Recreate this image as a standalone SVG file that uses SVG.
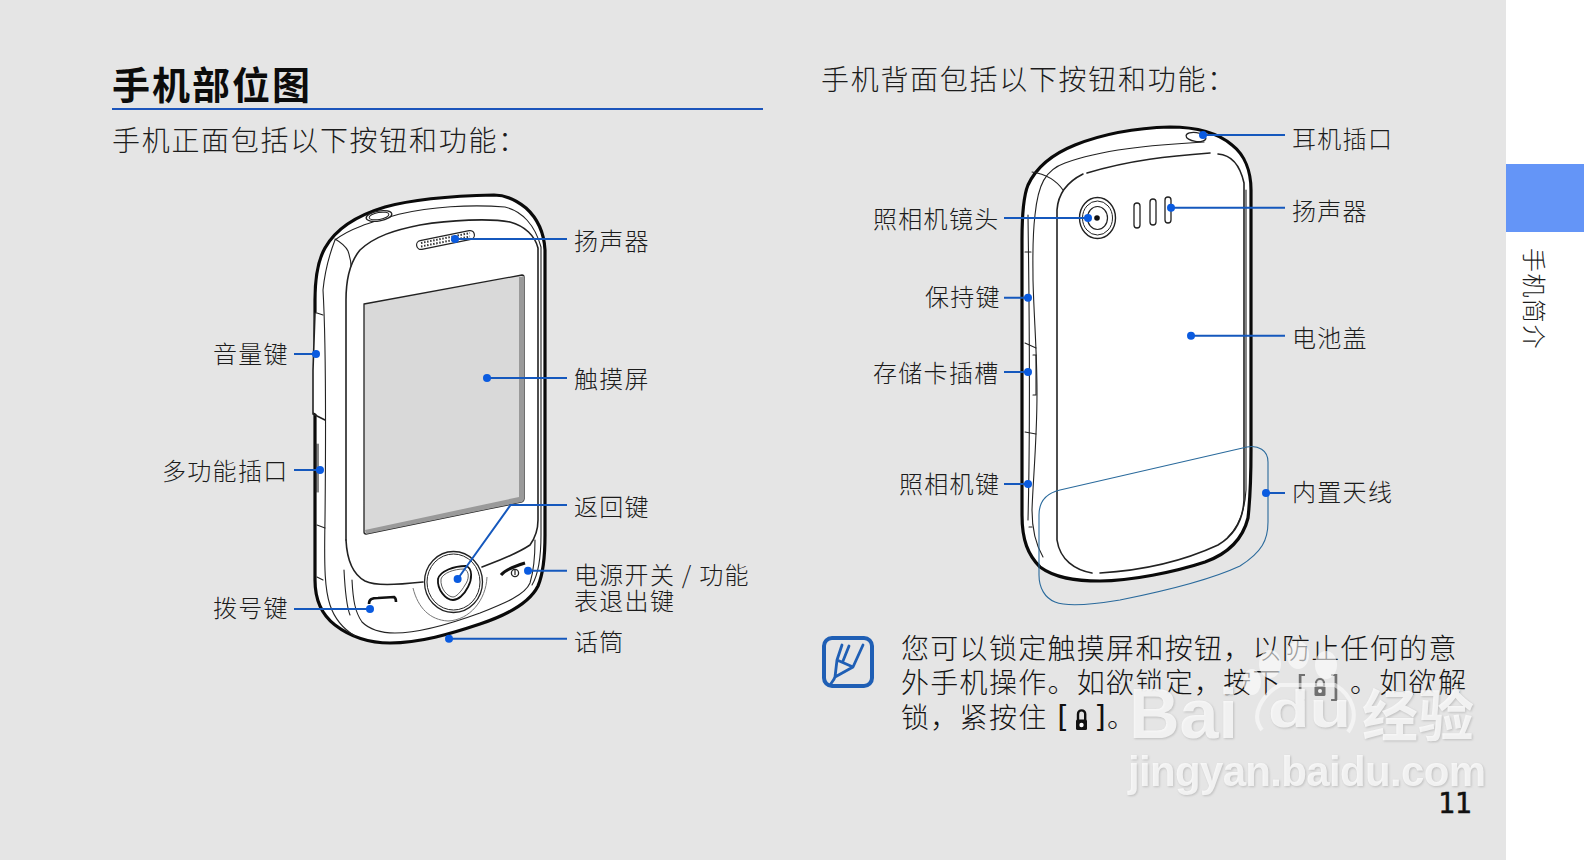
<svg xmlns="http://www.w3.org/2000/svg" width="1584" height="860" viewBox="0 0 1584 860">
<style>
text{font-family:"Noto Sans CJK SC","Liberation Sans",sans-serif}
.l{font-size:24px;font-weight:300;letter-spacing:1.3px;fill:#1c1c1c}
.h{font-size:28px;font-weight:300;letter-spacing:1.7px;fill:#1c1c1c}
.n{font-size:28px;font-weight:300;letter-spacing:1.3px;fill:#151515}
.br{font-family:"DejaVu Sans Mono",monospace;font-size:30px;fill:#111}
.o{fill:#fff;stroke:#0a0a0a;stroke-width:3.2;stroke-linejoin:round}
.t{fill:none;stroke:#222;stroke-width:1.1;stroke-linecap:round}
.m{fill:none;stroke:#222;stroke-width:1.6;stroke-linecap:round}
.c{fill:none;stroke:#1558bd;stroke-width:2}
.d{fill:#0a5be0}
.w{fill:#fff;font-family:"Liberation Sans",sans-serif;font-weight:700}
.s{fill:#bfbfbf;font-family:"Liberation Sans",sans-serif;font-weight:700}
</style>
<defs>
<filter id="b" x="-5%" y="-20%" width="110%" height="140%"><feGaussianBlur stdDeviation="1.2"/></filter>
</defs>
<rect id="page" width="1506" height="860" fill="#e5e5e5"/>
<rect width="78" height="860" x="1506" fill="#fff"/>
<rect id="tab" x="1506" y="164" width="78" height="68" fill="#6495f7"/>
<text class="l" transform="translate(1525,248) rotate(90)" style="letter-spacing:1.5px">手机简介</text>

<g id="headings">
<text x="112" y="98.5" font-size="38" font-weight="700" letter-spacing="2" fill="#0c0c0c">手机部位图</text>
<rect x="112" y="108" width="651" height="2" fill="#1c55bb"/>
<text class="h" x="112" y="151">手机正面包括以下按钮和功能&#xFF1A;</text>
<text class="h" x="821" y="90">手机背面包括以下按钮和功能&#xFF1A;</text>
</g>

<g id="phone-front">
<path class="o" d="M494 195C450 196 410 200 385 207C355 216 335 230 325 248C317 262 315 280 315 300V580C315 600 322 615 335 625C352 638 370 643 390 643C420 643 450 634 480 624C510 614 530 602 538 586C544 572 545 555 545 535V250C544 232 537 218 526 208C515 199 505 195 494 195Z"/>
<path d="M315 313L312.5 370L313 412L325 419L325 380L322 316Z" fill="#fff" stroke="none"/>
<path class="m" d="M315 313L313 370L313 414L325 420"/>
<path class="t" d="M316 444V492M318 444V492"/>
<path class="t" d="M317 313L323 315M317 525L325 528M317 577L323 580"/>
<path class="t" d="M323 290C325 270 328 258 335 240C350 228 372 222 400 214C430 207 470 204 505 207C522 211 535 225 541 247V535C541 560 538 575 532 585M323 290C326 340 326 420 325 520C324 570 325 590 330 605C335 620 345 630 355 636"/>
<path class="t" d="M335 239C342 243 346 247 348 251C350 257 351 261 351 266"/>
<path class="m" d="M346 540V300C346 278 350 262 360 250C375 236 395 230 420 225C450 220 490 218 510 222C525 226 535 236 538 248V520C538 530 535 538 530 545C515 555 500 560 482 567"/>
<path class="m" d="M346 540C347 560 352 574 365 581C375 586 395 585 423 582"/>
<path class="t" d="M344 570C345 590 346 605 350 615M352 580C353 600 355 612 362 622C370 630 382 633 395 633C420 633 450 624 480 613C505 603 525 595 530 583C534 570 535 555 535 540"/>
<path d="M364 304L522 275Q524 275 524 277V499Q524 501 522 502L366 534Q364 534 364 532Z" fill="#d9d9d9" stroke="#222" stroke-width="1.3"/>
<path d="M519 277H522Q524 275 524 277V499Q524 501 522 502L366 534L365 530L519 497Z" fill="#9a9a9a"/>
<g id="earpiece">
<line x1="421" y1="245" x2="470" y2="235" stroke="#222" stroke-width="10" stroke-linecap="round"/>
<line x1="421" y1="245" x2="470" y2="235" stroke="#fff" stroke-width="7.6" stroke-linecap="round"/>
<line x1="421" y1="243" x2="470" y2="233" stroke="#333" stroke-width="2" stroke-dasharray="1.5 1.6"/>
<line x1="421" y1="246.5" x2="470" y2="236.5" stroke="#333" stroke-width="2" stroke-dasharray="1.5 1.6"/>
</g>
<ellipse cx="379" cy="216" rx="13" ry="5" transform="rotate(-10 379 216)" fill="#fff" stroke="#222" stroke-width="1.3"/>
<ellipse cx="379" cy="216" rx="10" ry="3.5" transform="rotate(-10 379 216)" fill="none" stroke="#222" stroke-width="1"/>
<path d="M413 588C418 608 430 620 448 621C470 620 486 600 487 577" fill="none" stroke="#777" stroke-width="1"/>
<ellipse cx="453.5" cy="582" rx="29" ry="30.5" fill="#fff" stroke="#222" stroke-width="1.3"/>
<ellipse cx="453.5" cy="582" rx="26.5" ry="28" fill="#fff" stroke="#222" stroke-width="1"/>
<path d="M438 579C440 571 454 566 466 566C473 568 472 580 468 587C464 595 458 600 453 600C446 600 437 590 438 579Z" fill="#fff" stroke="#111" stroke-width="1.8"/>
<path d="M441 579C443 573 454 569 464 569C470 571 469 580 465 585C461 592 456 597 453 597C448 597 440 589 441 579Z" fill="none" stroke="#333" stroke-width=".8"/>
<path d="M369 604C369 599 372 598 378 598L394 597C396 598 396 600 396 602" fill="none" stroke="#111" stroke-width="2.6"/>
<path d="M501 575C505 570 515 566 525 563" fill="none" stroke="#111" stroke-width="3"/>
<circle cx="515" cy="573" r="3.6" fill="#fff" stroke="#222" stroke-width="1.3"/>
<line x1="515" y1="570" x2="515" y2="575" stroke="#222" stroke-width="1.2"/>
</g>

<g id="phone-back">
<path class="o" d="M1170 127C1135 128 1100 135 1075 145C1050 155 1035 170 1028 185C1023 197 1022 215 1022 240V515C1022 540 1028 555 1040 567C1055 578 1075 581 1100 581C1130 581 1175 572 1205 562C1230 553 1243 538 1248 518C1250 500 1251 480 1251 450V190C1251 172 1245 155 1232 145C1218 133 1195 127 1170 127Z"/>
<path class="t" d="M1204 142C1150 145 1100 150 1065 163C1045 170 1038 185 1035 215C1032 240 1033 260 1033 280C1034 320 1037 350 1037 393C1037 440 1033 480 1032 510C1032 530 1036 545 1043 557"/>
<path class="t" d="M1032 172C1045 174 1056 180 1063 190M1025 252H1031M1025 343L1036 348M1025 432L1036 434M1029 527H1032M1033 355H1036V395H1033"/>
<path class="t" d="M1028 215C1029 300 1031 400 1028 520"/>
<path class="m" d="M1087 173C1130 160 1170 156 1210 153M1218 154C1232 155 1240 165 1244 183V500C1243 520 1235 535 1218 545C1190 558 1150 570 1100 573M1092 573C1075 570 1060 560 1057 540V210C1058 195 1065 183 1083 174"/>
<path class="t" d="M1246 190V490C1245 510 1240 525 1228 537"/>
<g id="camera">
<ellipse cx="1097.5" cy="218" rx="18" ry="20.5" fill="#fff" stroke="#222" stroke-width="1.4"/>
<ellipse cx="1097.5" cy="218" rx="15" ry="17" fill="none" stroke="#222" stroke-width="1"/>
<ellipse cx="1097.5" cy="218" rx="10" ry="11.5" fill="none" stroke="#222" stroke-width="1.2"/>
<circle cx="1097" cy="218" r="2.8" fill="#111"/>
</g>
<rect x="1134" y="203" width="6" height="25" rx="3" fill="#fff" stroke="#222" stroke-width="1.3"/>
<rect x="1150" y="199" width="6" height="26" rx="3" fill="#fff" stroke="#222" stroke-width="1.3"/>
<rect x="1165" y="197" width="6" height="26" rx="3" fill="#fff" stroke="#222" stroke-width="1.3"/>
<ellipse cx="1196" cy="137" rx="10" ry="4.5" transform="rotate(8 1196 137)" fill="#fff" stroke="#222" stroke-width="1.3"/>
<path id="antenna" d="M1060 490L1247 447C1258 445 1268 450 1268 462V522C1268 540 1262 552 1240 566C1210 580 1170 590 1120 600C1090 605 1065 606 1055 602C1045 598 1039 588 1039 575V515C1039 500 1047 493 1060 490Z" fill="none" stroke="#2a6a9c" stroke-width="1.1"/>
</g>

<g id="connectors">
<path class="c" d="M455 239H567M487 378H567M567 505H510.6L457.6 579M528 570.7H567M449 638.7H567M294 354H316M294 470H320M294 609H370"/>
<path class="c" d="M1203 135H1285M1171 207.7H1285M1191 335.7H1285M1266 493H1285M1004 218H1088M1004 297.7H1028M1004 372H1028M1004 484H1028"/>
<g class="d">
<circle cx="455" cy="239" r="4"/><circle cx="487" cy="378" r="4"/><circle cx="457.6" cy="579" r="4"/><circle cx="528" cy="570.7" r="4"/><circle cx="449" cy="638.7" r="4"/><circle cx="316" cy="354" r="4"/><circle cx="320" cy="470" r="4"/><circle cx="370" cy="609" r="4"/>
<circle cx="1203" cy="135" r="4"/><circle cx="1171" cy="207.7" r="4"/><circle cx="1191" cy="335.7" r="4"/><circle cx="1266" cy="493" r="4"/><circle cx="1088" cy="218" r="4"/><circle cx="1028" cy="297.7" r="4"/><circle cx="1028" cy="372" r="4"/><circle cx="1028" cy="484" r="4"/>
</g>
</g>

<g id="labels-front">
<text class="l" x="574" y="250">扬声器</text>
<text class="l" x="574" y="388">触摸屏</text>
<text class="l" x="574" y="516">返回键</text>
<text class="l" x="574" y="584">电源开关 / 功能</text>
<text class="l" x="574" y="610">表退出键</text>
<text class="l" x="574" y="651">话筒</text>
<text class="l" x="213" y="363">音量键</text>
<text class="l" x="162" y="480">多功能插口</text>
<text class="l" x="213" y="617">拨号键</text>
</g>
<g id="labels-back">
<text class="l" x="1292" y="148">耳机插口</text>
<text class="l" x="1292" y="220">扬声器</text>
<text class="l" x="1292" y="347">电池盖</text>
<text class="l" x="1292" y="501">内置天线</text>
<text class="l" x="873" y="228">照相机镜头</text>
<text class="l" x="925" y="306">保持键</text>
<text class="l" x="873" y="382">存储卡插槽</text>
<text class="l" x="899" y="493">照相机键</text>
</g>

<g id="note-icon" fill="none" stroke="#1f5fb5" stroke-linejoin="round" stroke-linecap="round">
<rect x="824" y="638" width="48" height="48" rx="8" stroke-width="4"/>
<path d="M842 645L837 660L853 667L863 645M849 646L843 661M837 660L835 677C834 680 832 682 830 685M853 667L835 677" stroke-width="2.8"/>
</g>
<g id="note">
<text class="n" x="901" y="659">您可以锁定触摸屏和按钮&#xFF0C;以防止任何的意</text>
<text class="n" x="901" y="693">外手机操作。如欲锁定&#xFF0C;按下</text>
<g opacity=".55">
<text class="br" x="1292" y="697">[</text>
<text class="br" x="1326" y="697">]</text>
<g id="lock1"><path d="M1316 686V683A4 4 0 0 1 1324 683V686" fill="none" stroke="#111" stroke-width="2.2"/><rect x="1314.5" y="686" width="11" height="10" rx="1.5" fill="#111"/><circle cx="1320" cy="691" r="2" fill="#fff"/></g>
</g>
<text class="n" x="1350" y="693">。如欲解</text>
<text class="n" x="901" y="728">锁&#xFF0C;紧按住</text>
<text class="br" x="1053" y="727">[</text>
<text class="br" x="1092" y="727">]</text>
<text class="n" x="1107" y="728">。</text>
<g id="lock2"><path d="M1078 720V714A3.6 3.6 0 0 1 1085.2 714V720" fill="none" stroke="#111" stroke-width="2.4"/><rect x="1076" y="719.5" width="11" height="10.5" rx="1.5" fill="#111"/><circle cx="1081.5" cy="725" r="2.2" fill="#fff"/></g>
</g>

<g id="watermark">
<g filter="url(#b)">
<text class="s" x="1130" y="739" font-size="70">Bai</text>
<text class="s" x="1269" y="728" font-size="52" textLength="83" lengthAdjust="spacingAndGlyphs">du</text>
<text x="1363" y="737" font-size="56" font-weight="700" fill="#bfbfbf">经验</text>
<text class="s" x="1129" y="787" font-size="42" textLength="358">jingyan.baidu.com</text>
</g>
<g opacity=".78">
<text class="w" x="1129" y="738" font-size="70">Bai</text>
<text class="w" x="1268" y="727" font-size="52" textLength="83" lengthAdjust="spacingAndGlyphs">du</text>
<text x="1362" y="736" font-size="56" font-weight="700" fill="#fff">经验</text>
<text class="w" x="1128" y="786" font-size="42" textLength="358">jingyan.baidu.com</text>
<g id="paw" fill="#fff" opacity=".75"><ellipse cx="1270" cy="664" rx="11" ry="14"/><ellipse cx="1298" cy="655" rx="11" ry="14"/><ellipse cx="1326" cy="665" rx="11" ry="14"/><ellipse cx="1252" cy="682" rx="9" ry="13"/></g>
<path d="M1262 730C1250 715 1262 695 1280 685H1335C1352 695 1360 715 1348 732" fill="none" stroke="#fff" stroke-width="4" opacity=".7"/>
</g>
</g>
<text id="page-number" x="1438" y="813" font-size="28" stroke="#111" stroke-width=".5" style="font-family:'DejaVu Sans Mono',monospace" fill="#111">11</text>
</svg>
